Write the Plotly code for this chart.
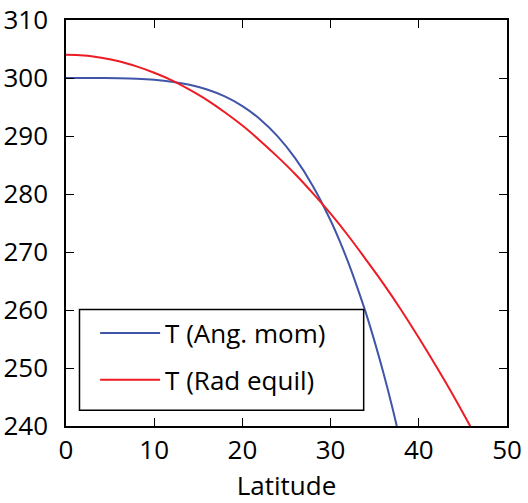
import plotly.graph_objects as go

lat_ang = [0, 2, 4, 6, 8, 10, 12, 14, 16, 18, 20, 22, 24, 26, 28, 30, 31, 32, 33, 34, 35, 36, 37, 37.5]
t_ang = [300.0, 300.0, 299.99, 299.96, 299.88, 299.70, 299.37, 298.83, 298.01, 296.82, 295.15, 292.90,
         289.94, 286.13, 281.35, 275.43, 272.0, 268.2, 264.0, 259.5, 254.5, 249.1, 243.2, 240.0]

lat_rad = [0, 2, 4, 6, 8, 10, 12, 14, 16, 18, 20, 22, 24, 26, 28, 30, 32, 34, 36, 38, 40, 42, 44, 46]
t_rad = [304.0, 303.9, 303.5, 302.9, 302.0, 300.9, 299.6, 298.0, 296.2, 294.1, 291.8, 289.2, 286.4,
         283.4, 280.1, 276.6, 272.8, 268.7, 264.5, 260.0, 255.2, 250.2, 245.0, 239.5]

x_ticks = [0, 10, 20, 30, 40, 50]
y_ticks = [240, 250, 260, 270, 280, 290, 300, 310]

FONT = "Open Sans"

fig = go.Figure()
fig.add_trace(go.Scatter(x=lat_ang, y=t_ang, mode="lines", name="T (Ang. mom)", legendgroup="a",
                         line=dict(color="#4055A8", width=2, shape="spline", smoothing=1)))
fig.add_trace(go.Scatter(x=lat_rad, y=t_rad, mode="lines", name="T (Rad equil)", legendgroup="b",
                         line=dict(color="#ED1C24", width=2, shape="spline", smoothing=1)))

axis_common = dict(showgrid=False, zeroline=False, showline=True, linecolor="black", linewidth=1.5,
                   mirror="ticks", ticks="inside", ticklen=8, tickwidth=1, tickcolor="black",
                   tickfont=dict(family=FONT, size=26, color="black"), automargin=False)

fig.update_xaxes(range=[0, 50], tickvals=x_ticks, ticklabelstandoff=0,
                 title=dict(text="Latitude", standoff=17, font=dict(family=FONT, size=26, color="black")),
                 **axis_common)
fig.update_yaxes(range=[240, 310], tickvals=y_ticks, ticklabelstandoff=11, **axis_common)

# legend frame
fig.add_shape(type="rect", xref="paper", yref="paper", x0=0.0306, x1=0.675, y0=0.0387, y1=0.287,
              line=dict(color="black", width=1.5), fillcolor="white", layer="above")

fig.update_layout(
    width=528, height=503,
    margin=dict(l=66, r=21, t=20, b=77),
    plot_bgcolor="white", paper_bgcolor="white",
    legend=dict(x=0.066, y=0.287, xanchor="left", yanchor="top",
                bgcolor="rgba(0,0,0,0)", borderwidth=0,
                font=dict(family=FONT, size=26, color="black"),
                itemwidth=60, tracegroupgap=10),
    showlegend=True,
)

fig.write_html("out.html", config={"displayModeBar": False},
               post_script="document.body.style.margin='0';")
